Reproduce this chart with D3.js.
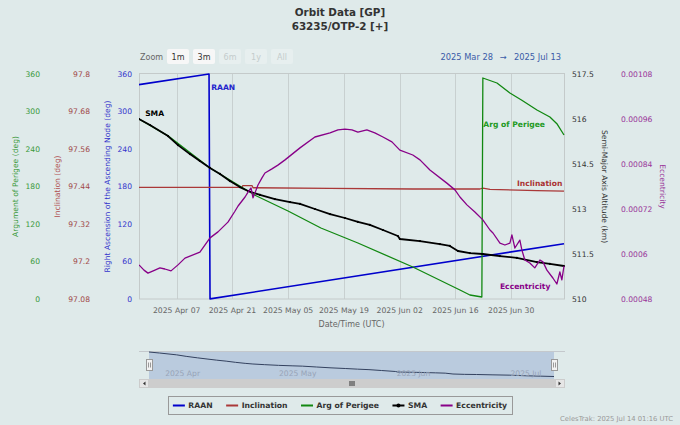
<!DOCTYPE html>
<html><head><meta charset="utf-8">
<script src="https://cdn.jsdelivr.net/npm/d3@7"></script>
<style>html,body{margin:0;padding:0;background:#dfeaea;} svg{display:block;font-family:"DejaVu Sans",sans-serif;}</style>
</head><body><svg id="c" width="680" height="425"></svg>
<script>
// ---------------- data ----------------
const titleLines = ["Orbit Data [GP]", "63235/OTP-2 [+]"];
const xStart = "2025-03-28T13", xEnd = "2025-07-13T06";
const xTickDates = ["2025-04-07T00","2025-04-21T00","2025-05-05T00","2025-05-19T00","2025-06-02T00","2025-06-16T00","2025-06-30T00"];
const navTickDates = ["2025-04-01T00","2025-05-01T00","2025-06-01T00","2025-07-01T00"];
const degTicks = [0,60,120,180,240,300,360];
const incTicks = [97.08,97.2,97.32,97.44,97.56,97.68,97.8];
const smaTicks = [510,511.5,513,514.5,516,517.5];
const eccTicks = [0.00048,0.0006,0.00072,0.00084,0.00096,0.00108];
const zoomButtons = ["1m","3m","6m","1y","All"];
const zoomEnabled = [true,true,false,false,false];
const rangeFrom = "2025 Mar 28", rangeArrow = "\u2192", rangeTo = "2025 Jul 13";
const creditText = "CelesTrak: 2025 Jul 14 01:16 UTC";

const raanData = [["2025-03-28T13",343.0],["2025-04-15T03",359.9],["2025-04-15T09",0.2],["2025-07-13T06",88.5]];
const incData = [["2025-03-28T13",97.437],["2025-04-10T08",97.437],["2025-04-23T09",97.437],["2025-04-23T15",97.443],
  ["2025-04-25T22",97.443],["2025-04-26T04",97.436],["2025-05-15T12",97.434],["2025-06-05T07",97.432],["2025-06-22T03",97.432],
  ["2025-06-22T21",97.435],["2025-06-24T16",97.431],["2025-07-06T11",97.427],["2025-07-13T06",97.425]];
const argData = [["2025-03-28T13",288],["2025-04-04T20",261],["2025-04-15T09",209.6],["2025-04-24T22",172.8],["2025-04-26T16",166],
  ["2025-05-04T23",140.8],["2025-05-13T05",113.6],["2025-05-22T12",89.6],["2025-06-05T07",51.2],["2025-06-17T03",14.4],
  ["2025-06-19T15",6.4],["2025-06-22T15",3.2],["2025-06-22T21",353.6],["2025-06-26T10",345.6],["2025-06-29T16",329.6],
  ["2025-07-02T16",318],["2025-07-06T11",302.4],["2025-07-09T17",291.2],["2025-07-11T11",280.5],["2025-07-13T06",262.4]];
const smaData = [["2025-03-28T13",516.00],["2025-03-31T07",515.80],["2025-04-04T20",515.43],["2025-04-07T08",515.13],
  ["2025-04-10T08",514.83],["2025-04-12T20",514.60],["2025-04-15T09",514.37],["2025-04-17T21",514.17],["2025-04-20T09",513.93],
  ["2025-04-22T21",513.73],["2025-04-24T22",513.60],["2025-04-27T22",513.47],["2025-05-01T16",513.33],["2025-05-05T11",513.23],
  ["2025-05-07T23",513.17],["2025-05-11T17",513.00],["2025-05-15T12",512.83],["2025-05-19T06",512.70],["2025-05-22T12",512.57],
  ["2025-05-25T12",512.47],["2025-05-28T19",512.30],["2025-06-01T13",512.10],["2025-06-02T01",512.00],["2025-06-07T02",511.93],
  ["2025-06-12T02",511.83],["2025-06-14T14",511.77],["2025-06-16T15",511.60],["2025-06-19T15",511.53],["2025-06-22T21",511.50],
  ["2025-06-27T04",511.43],["2025-07-01T10",511.37],["2025-07-06T11",511.23],["2025-07-09T17",511.17],["2025-07-13T06",511.10]];
const eccData = [["2025-03-28T13",0.000571],["2025-03-29T19",0.000557],["2025-03-30T19",0.000549],["2025-04-01T13",0.000557],
  ["2025-04-02T19",0.000563],["2025-04-04T01",0.000560],["2025-04-05T14",0.000555],["2025-04-07T08",0.000571],["2025-04-09T02",0.000589],
  ["2025-04-12T20",0.000605],["2025-04-15T09",0.000643],["2025-04-17T09",0.000659],["2025-04-19T21",0.000685],["2025-04-21T15",0.000714],
  ["2025-04-22T10",0.000728],["2025-04-24T04",0.000752],["2025-04-24T22",0.000765],["2025-04-25T16",0.000776],["2025-04-26T04",0.000750],
  ["2025-04-26T16",0.000763],["2025-04-27T10",0.000784],["2025-04-28T10",0.000803],["2025-04-29T04",0.000816],["2025-04-30T22",0.000827],
  ["2025-05-02T10",0.000837],["2025-05-04T05",0.000851],["2025-05-07T23",0.000883],["2025-05-11T17",0.000912],["2025-05-15T12",0.000923],
  ["2025-05-17T12",0.000931],["2025-05-19T06",0.000933],["2025-05-21T00",0.000931],["2025-05-22T12",0.000925],["2025-05-24T18",0.000931],
  ["2025-05-26T18",0.000923],["2025-05-28T19",0.000912],["2025-05-31T01",0.000899],["2025-06-02T01",0.000877],["2025-06-05T07",0.000864],
  ["2025-06-07T02",0.000851],["2025-06-09T14",0.000824],["2025-06-13T20",0.000789],["2025-06-15T21",0.000771],["2025-06-17T03",0.000752],
  ["2025-06-18T21",0.000731],["2025-06-20T21",0.000712],["2025-06-22T21",0.000691],["2025-06-24T16",0.000664],["2025-06-25T10",0.000656],
  ["2025-06-27T04",0.000629],["2025-06-28T10",0.000624],["2025-06-29T16",0.000629],["2025-06-30T04",0.000651],["2025-06-30T22",0.000616],
  ["2025-07-02T04",0.000637],["2025-07-02T16",0.000611],["2025-07-03T10",0.000584],["2025-07-04T16",0.000576],["2025-07-05T22",0.000563],
  ["2025-07-07T05",0.000584],["2025-07-07T23",0.000579],["2025-07-08T23",0.000557],["2025-07-10T11",0.000536],["2025-07-11T11",0.000520],
  ["2025-07-12T05",0.000552],["2025-07-12T17",0.000531],["2025-07-13T06",0.000568]];

const seriesNames = ["RAAN","Inclination","Arg of Perigee","SMA","Eccentricity"];
// label anchors: [date, value on own axis]
const labelAnchors = {
  "RAAN": ["2025-04-15T16", 334],
  "SMA": ["2025-03-30T02", 516.1],
  "Arg of Perigee": ["2025-06-23T00", 275],
  "Inclination": ["2025-07-12T20", 97.4416],
  "Eccentricity": ["2025-06-27T04", 0.000507]
};

// ---------------- drawing ----------------
const parse = d3.utcParse("%Y-%m-%dT%H");
const svg = d3.select("#c");
const L = 139, R = 564, T = 74, B = 299;

svg.append("rect").attr("width",680).attr("height",425).attr("fill","#dfeaea");

const x = d3.scaleUtc().domain([parse(xStart), parse(xEnd)]).range([L, R]);
const yDeg = d3.scaleLinear().domain([0,360]).range([B,T]);
const yInc = d3.scaleLinear().domain([97.08,97.8]).range([B,T]);
const ySma = d3.scaleLinear().domain([510,517.5]).range([B,T]);
const yEcc = d3.scaleLinear().domain([0.00048,0.00108]).range([B,T]);

// title
svg.selectAll("text.title").data(titleLines).join("text")
  .attr("x",340).attr("y",(d,i)=>16+i*14).attr("text-anchor","middle")
  .attr("font-size",10.4).attr("font-weight","bold").attr("fill","#333").text(d=>d);

// zoom buttons
svg.append("text").attr("x",140).attr("y",57).attr("dy","0.35em").attr("font-size",8).attr("fill","#666").text("Zoom");
const bg = svg.selectAll("g.btn").data(zoomButtons).join("g").attr("transform",(d,i)=>`translate(${167+i*26},49)`);
bg.append("rect").attr("width",22).attr("height",15).attr("rx",2)
  .attr("fill",(d,i)=>zoomEnabled[i]?"#f7f7f7":"#e7efef");
bg.append("text").attr("x",11).attr("y",8).attr("dy","0.35em").attr("text-anchor","middle").attr("font-size",8)
  .attr("fill",(d,i)=>zoomEnabled[i]?"#333":"#c4cccc").text(d=>d);

// range text
const rtAttrs = t => t.attr("y",57).attr("dy","0.35em").attr("font-size",8.3).attr("fill","#3b5ca8");
rtAttrs(svg.append("text").attr("x",561).attr("text-anchor","end").text(rangeTo));
rtAttrs(svg.append("text").attr("x",503).attr("text-anchor","middle").text(rangeArrow));
rtAttrs(svg.append("text").attr("x",493).attr("text-anchor","end").text(rangeFrom));

// plot grid
svg.append("g").selectAll("line").data(xTickDates.map(parse)).join("line")
  .attr("x1",d=>Math.round(x(d))+0.5).attr("x2",d=>Math.round(x(d))+0.5).attr("y1",T).attr("y2",B)
  .attr("stroke","#c8d0d0").attr("stroke-width",1);
svg.append("rect").attr("x",L+0.5).attr("y",T-0.5).attr("width",R-L).attr("height",B-T+0.5)
  .attr("fill","none").attr("stroke","#c4caca").attr("stroke-width",1);

// x axis labels
svg.append("g").selectAll("text").data(xTickDates.map(parse)).join("text")
  .attr("x",d=>x(d)).attr("y",310).attr("dy","0.35em").attr("text-anchor","middle")
  .attr("font-size",7.7).attr("fill","#666").text(d=>d3.utcFormat("%Y %b %d")(d));
svg.append("text").attr("x",(L+R)/2).attr("y",324).attr("dy","0.35em").attr("text-anchor","middle")
  .attr("font-size",8).attr("fill","#666").text("Date/Time (UTC)");

const fmt = v => String(+v.toFixed(6));
function yLabels(ticks, scale, xPos, anchor, color){
  svg.append("g").selectAll("text").data(ticks).join("text")
    .attr("x",xPos).attr("y",d=>scale(d)).attr("dy","0.35em").attr("text-anchor",anchor)
    .attr("font-size",7.6).attr("fill",color).text(fmt);
}
function yTitle(txt, xPos, rot, color){
  svg.append("text").attr("transform",`translate(${xPos},${(T+B)/2}) rotate(${rot})`)
    .attr("text-anchor","middle").attr("dy","0.35em").attr("font-size",7.6).attr("fill",color).text(txt);
}
yLabels(degTicks, yDeg, 40, "end", "#3a993a");
yLabels(incTicks, yInc, 90, "end", "#a04848");
yLabels(degTicks, yDeg, 132, "end", "#3333cc");
yLabels(smaTicks, ySma, 572, "start", "#333");
yLabels(eccTicks, yEcc, 621, "start", "#993399");
yTitle("Argument of Perigee (deg)", 15, -90, "#3a993a");
yTitle("Inclination (deg)", 57, -90, "#b05050");
yTitle("Right Ascension of the Ascending Node (deg)", 107, -90, "#3333cc");
yTitle("Semi-Major Axis Altitude (km)", 605, 90, "#333");
yTitle("Eccentricity", 663, 90, "#993399");

// clip
svg.append("clipPath").attr("id","clip").append("rect").attr("x",L).attr("y",T-2).attr("width",R-L+1).attr("height",B-T+4);
const plot = svg.append("g").attr("clip-path","url(#clip)");

const series = [
  {name:"RAAN", data:raanData, y:yDeg, color:"#0000cc", w:1.6, lc:"#2222cc"},
  {name:"Inclination", data:incData, y:yInc, color:"#aa3838", w:1.3, lc:"#aa3333"},
  {name:"Arg of Perigee", data:argData, y:yDeg, color:"#118811", w:1.3, lc:"#229922"},
  {name:"SMA", data:smaData, y:ySma, color:"#000000", w:1.8, lc:"#000"},
  {name:"Eccentricity", data:eccData, y:yEcc, color:"#880088", w:1.3, lc:"#880088"}
];
series.forEach(s=>{
  const line = d3.line().x(d=>x(parse(d[0]))).y(d=>s.y(d[1]));
  plot.append("path").attr("d",line(s.data)).attr("fill","none").attr("stroke",s.color)
    .attr("stroke-width",s.w).attr("stroke-linejoin","round");
  if(s.name==="SMA"){
    plot.append("g").selectAll("circle").data(s.data).join("circle")
      .attr("cx",d=>x(parse(d[0]))).attr("cy",d=>s.y(d[1])).attr("r",1.1).attr("fill","#000");
  }
});
// series labels
series.forEach(s=>{
  const a = labelAnchors[s.name];
  svg.append("text").attr("x",x(parse(a[0]))).attr("y",s.y(a[1]))
    .attr("text-anchor", s.name==="Inclination"?"end":"start")
    .attr("font-size",7.6).attr("font-weight","bold").attr("fill",s.lc).text(s.name);
});

// ---------------- navigator ----------------
const NL = 149, NR = 554, NT = 351, NB = 379;
const xn = d3.scaleUtc().domain(x.domain()).range([NL, NR]);
const yn = d3.scaleLinear().domain(d3.extent(smaData, d=>d[1])).range([376.5, 352]);
svg.append("rect").attr("x",NL).attr("y",NT).attr("width",NR-NL).attr("height",NB-NT).attr("fill","rgba(102,133,194,0.3)");
svg.append("line").attr("x1",L).attr("x2",R+1).attr("y1",NT+0.5).attr("y2",NT+0.5).attr("stroke","#c4c8cc");
svg.append("path").attr("d", d3.line().x(d=>xn(parse(d[0]))).y(d=>yn(d[1]))(smaData))
  .attr("fill","none").attr("stroke","#33415e").attr("stroke-width",1);
svg.append("g").selectAll("text").data(navTickDates.map(parse)).join("text")
  .attr("x",d=>xn(d)+3).attr("y",373).attr("dy","0.35em").attr("font-size",7.6).attr("fill","#98a4b8")
  .text(d=>d3.utcFormat("%Y %b")(d));
[NL, NR].forEach(hx=>{
  const g = svg.append("g").attr("transform",`translate(${Math.round(hx)+0.5},359.5)`);
  g.append("rect").attr("x",-3).attr("y",0).attr("width",6).attr("height",11).attr("fill","#f2f2f2").attr("stroke","#999");
  g.append("line").attr("x1",-1).attr("x2",-1).attr("y1",3).attr("y2",8).attr("stroke","#999");
  g.append("line").attr("x1",1).attr("x2",1).attr("y1",3).attr("y2",8).attr("stroke","#999");
});
// scrollbar
svg.append("rect").attr("x",L).attr("y",379).attr("width",R-L+1).attr("height",9).attr("fill","#cdcdcd");
[[L,1],[R-9,-1]].forEach(([bx,dir])=>{
  svg.append("rect").attr("x",bx+0.5).attr("y",379.5).attr("width",9).attr("height",8).attr("fill","#e6e6e6").attr("stroke","#cccccc");
  const cx = bx+5, cy = 383.5;
  svg.append("path").attr("d", dir>0 ? `M${cx+1.5},${cy-2}L${cx-1},${cy}L${cx+1.5},${cy+2}Z` : `M${cx-1.5},${cy-2}L${cx+1},${cy}L${cx-1.5},${cy+2}Z`)
    .attr("fill","#333");
});
[-2,0,2].forEach(o=>{
  svg.append("line").attr("x1",(NL+NR)/2+o+0.5).attr("x2",(NL+NR)/2+o+0.5).attr("y1",381).attr("y2",386).attr("stroke","#333");
});

// ---------------- legend ----------------
const lg = svg.append("g");
const box = lg.append("rect").attr("y",396.5).attr("height",18).attr("fill","none").attr("stroke","#999");
let cx = 0;
const items = [];
series.forEach(s=>{
  const g = lg.append("g");
  g.append("line").attr("x1",0).attr("x2",12).attr("y1",405.5).attr("y2",405.5).attr("stroke",s.color).attr("stroke-width",2);
  if(s.name==="SMA") g.append("circle").attr("cx",6).attr("cy",405.5).attr("r",2).attr("fill","#000");
  const t = g.append("text").attr("x",15.5).attr("y",405.5).attr("dy","0.35em").attr("font-size",7.7)
    .attr("font-weight","bold").attr("fill","#333").text(s.name);
  const w = t.node().getComputedTextLength();
  items.push([g, cx]);
  cx += 15.5 + w + 13.5;
});
const totalW = cx - 13.5;
const start = 340 - totalW/2;
items.forEach(([g,o])=>g.attr("transform",`translate(${start+o},0)`));
box.attr("x",Math.round(start-5)+0.5).attr("width",Math.round(totalW+10));

// credits
svg.append("text").attr("x",673).attr("y",419).attr("dy","0.35em").attr("text-anchor","end")
  .attr("font-size",6.8).attr("fill","#999").text(creditText);
</script></body></html>
